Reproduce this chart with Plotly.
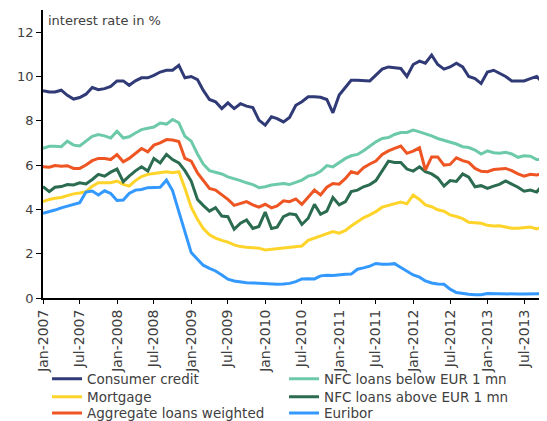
import plotly.graph_objects as go
import pandas as pd

months = pd.date_range("2007-01-01", periods=82, freq="MS").strftime("%Y-%m-%d").tolist()

consumer_credit = [9.36, 9.3, 9.3, 9.38, 9.15, 8.98, 9.05, 9.2, 9.5, 9.4, 9.45, 9.55, 9.8, 9.8, 9.6, 9.8,
                   9.94, 9.94, 10.05, 10.2, 10.28, 10.28, 10.5, 9.94, 10.0, 9.86, 9.38, 8.96, 8.86, 8.55,
                   8.81, 8.55, 8.77, 8.66, 8.6, 8.03, 7.8, 8.18, 8.1, 7.95, 8.15, 8.7, 8.86, 9.08, 9.08,
                   9.06, 8.96, 8.36, 9.16, 9.5, 9.83, 9.83, 9.82, 9.8, 10.06, 10.33, 10.43, 10.4, 10.36,
                   10.0, 10.54, 10.69, 10.6, 10.96, 10.54, 10.33, 10.43, 10.6, 10.43, 10.0, 9.9, 9.68,
                   10.2, 10.28, 10.13, 10.0, 9.8, 9.8, 9.8, 9.9, 10.0, 9.71]
nfc_below = [6.75, 6.85, 6.85, 6.83, 7.08, 6.9, 6.86, 7.1, 7.3, 7.38, 7.32, 7.22, 7.53, 7.22, 7.28, 7.45,
             7.6, 7.66, 7.72, 7.9, 7.85, 8.06, 7.91, 7.3, 7.08, 6.5, 6.05, 5.75, 5.67, 5.6, 5.47, 5.4,
             5.3, 5.2, 5.12, 4.98, 5.02, 5.1, 5.12, 5.17, 5.12, 5.22, 5.32, 5.5, 5.57, 5.72, 5.98, 5.92,
             6.1, 6.3, 6.42, 6.48, 6.65, 6.85, 7.05, 7.2, 7.24, 7.38, 7.47, 7.47, 7.58, 7.5, 7.43, 7.32,
             7.2, 7.12, 7.05, 6.95, 6.83, 6.79, 6.68, 6.5, 6.64, 6.56, 6.53, 6.58, 6.5, 6.35, 6.42, 6.4,
             6.25, 6.25]
mortgage = [4.35, 4.45, 4.5, 4.54, 4.62, 4.7, 4.74, 4.8, 5.05, 5.2, 5.2, 5.2, 5.28, 5.13, 5.05, 5.3,
            5.48, 5.58, 5.62, 5.66, 5.7, 5.65, 5.7, 4.95, 4.1, 3.55, 3.15, 2.85, 2.7, 2.6, 2.52, 2.4,
            2.32, 2.29, 2.26, 2.25, 2.17, 2.2, 2.22, 2.25, 2.27, 2.3, 2.35, 2.6, 2.7, 2.78, 2.88, 3.0,
            2.93, 3.05, 3.25, 3.45, 3.62, 3.75, 3.9, 4.1, 4.18, 4.25, 4.33, 4.25, 4.65, 4.45, 4.2, 4.12,
            3.98, 3.92, 3.75, 3.68, 3.58, 3.42, 3.4, 3.37, 3.28, 3.25, 3.26, 3.2, 3.15, 3.15, 3.18, 3.2,
            3.12, 3.22]
nfc_above = [5.03, 4.8, 5.0, 5.03, 5.12, 5.1, 5.2, 5.15, 5.35, 5.58, 5.5, 5.68, 5.82, 5.25, 5.5, 5.74,
             5.92, 5.73, 6.3, 6.1, 6.48, 6.25, 6.1, 5.75, 5.28, 4.45, 4.18, 3.92, 4.08, 3.7, 3.67, 3.1,
             3.38, 3.52, 3.14, 3.23, 3.88, 3.14, 3.2, 3.67, 3.8, 3.76, 3.32, 3.6, 4.23, 3.78, 3.92, 4.53,
             4.2, 4.35, 4.8, 4.87, 5.02, 5.12, 5.3, 5.75, 6.18, 6.12, 6.12, 5.82, 5.73, 5.92, 5.7, 5.6,
             5.42, 5.05, 5.3, 5.26, 5.6, 5.45, 5.02, 5.07, 4.95, 5.05, 5.13, 5.28, 5.15, 5.0, 4.82, 4.87,
             4.78, 5.1]
aggregate = [5.92, 5.9, 5.98, 5.95, 5.97, 5.85, 5.85, 6.0, 6.2, 6.3, 6.3, 6.25, 6.47, 6.15, 6.3, 6.55,
             6.75, 6.6, 6.9, 7.0, 7.15, 7.13, 7.06, 6.3, 6.18, 5.65, 5.3, 4.95, 4.87, 4.65, 4.45, 4.18,
             4.27, 4.35, 4.2, 4.1, 4.23, 4.07, 4.16, 4.39, 4.35, 4.47, 4.23, 4.57, 4.87, 4.65, 5.0, 5.17,
             5.14, 5.4, 5.7, 5.62, 5.88, 6.05, 6.18, 6.48, 6.64, 6.75, 6.86, 6.53, 6.63, 6.78, 5.77, 6.37,
             6.37, 6.0, 6.03, 6.33, 6.2, 6.12, 5.85, 5.72, 5.7, 5.8, 5.83, 5.85, 5.75, 5.6, 5.5, 5.58,
             5.55, 5.62]
euribor = [3.82, 3.89, 3.97, 4.07, 4.15, 4.22, 4.3, 4.78, 4.83, 4.65, 4.84, 4.72, 4.4, 4.42, 4.72, 4.87,
           4.9, 4.98, 5.0, 5.0, 5.32, 4.85, 3.9, 3.0, 2.05, 1.75, 1.48, 1.34, 1.22, 1.04, 0.85, 0.77,
           0.72, 0.69, 0.68, 0.66, 0.65, 0.62, 0.62, 0.63, 0.66, 0.74, 0.86, 0.87, 0.86, 1.0, 1.03, 1.02,
           1.06, 1.07, 1.08, 1.3, 1.36, 1.44, 1.56, 1.52, 1.52, 1.55, 1.38, 1.2, 1.04, 0.94, 0.77, 0.68,
           0.63, 0.62, 0.4, 0.25, 0.2, 0.17, 0.15, 0.15, 0.2, 0.19, 0.18, 0.18, 0.18, 0.18, 0.18, 0.18,
           0.19, 0.19]

tick_vals = pd.date_range("2007-01-01", "2013-07-01", freq="6MS")
tick_text = [d.strftime("%b-%Y") for d in tick_vals]
y_ticks = [0, 2, 4, 6, 8, 10, 12]

series = [
    ("Consumer credit", consumer_credit, "#2f3a76", "legend"),
    ("NFC loans below EUR 1 mn", nfc_below, "#6ccaa8", "legend"),
    ("Mortgage", mortgage, "#ffd42a", "legend2"),
    ("NFC loans above EUR 1 mn", nfc_above, "#2b6b4f", "legend2"),
    ("Aggregate loans weighted", aggregate, "#ee5522", "legend3"),
    ("Euribor", euribor, "#3399ff", "legend3"),
]

FONT = "DejaVu Sans"
fig = go.Figure()
for name, vals, color, lg in series:
    fig.add_trace(go.Scatter(x=months, y=vals, mode="lines", name=name, legend=lg,
                             line=dict(color=color, width=3)))

def legend_row(y):
    return dict(orientation="h", x=0.008, y=y, xanchor="left", yanchor="middle",
                entrywidth=192, entrywidthmode="pixels", itemwidth=30,
                font=dict(family=FONT, size=13.5, color="#404040"),
                bgcolor="rgba(0,0,0,0)", tracegroupgap=0)

fig.update_layout(
    width=539, height=413,
    margin=dict(l=35, r=0, t=2, b=123, autoexpand=False),
    plot_bgcolor="white", paper_bgcolor="white",
    font=dict(family=FONT, size=13, color="#404040"),
    showlegend=True,
    legend=legend_row(-0.281),
    legend2=legend_row(-0.344),
    legend3=legend_row(-0.400),
    xaxis=dict(type="date", range=["2007-01-01", "2013-10-22"], automargin=False,
               tickvals=list(tick_vals), ticktext=tick_text, tickangle=-90,
               showgrid=False, zeroline=False, showline=True, linecolor="black", linewidth=2,
               ticks="outside", ticklen=4, tickcolor="black", tickwidth=1,
               tickfont=dict(family=FONT, size=14, color="#404040")),
    yaxis=dict(range=[0, 13], tickvals=y_ticks, showgrid=False, zeroline=False, automargin=False,
               showline=True, linecolor="black", linewidth=1.5,
               ticks="outside", ticklen=5, tickcolor="black", tickwidth=1,
               tickfont=dict(family=FONT, size=13, color="#404040")),
)
fig.add_annotation(text="interest rate in %", xref="paper", yref="paper",
                   x=0.006, y=0.995, xanchor="left", yanchor="top", showarrow=False,
                   font=dict(family=FONT, size=13, color="#404040"))

fig.write_html("out.html")
